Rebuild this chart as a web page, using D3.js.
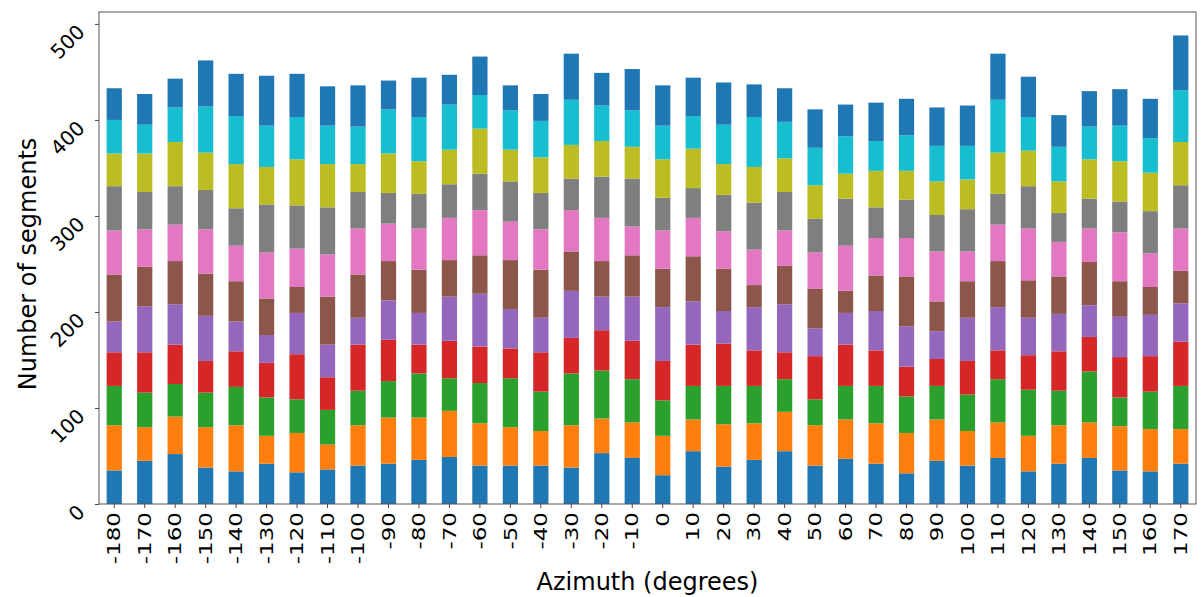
<!DOCTYPE html>
<html>
<head>
<meta charset="utf-8">
<script src="https://cdn.jsdelivr.net/npm/d3@7"></script>
<style>
  body { margin: 0; background: #fff; }
  text { font-family: "DejaVu Sans", sans-serif; fill: #000; }
</style>
</head>
<body>
<svg id="chart" width="1201" height="597"></svg>
<script>
// Azimuth bins (degrees)
const azimuths = ["-180","-170","-160","-150","-140","-130","-120","-110","-100","-90",
  "-80","-70","-60","-50","-40","-30","-20","-10","0","10","20","30","40","50",
  "60","70","80","90","100","110","120","130","140","150","160","170"];

// Segment counts per group, stacked bottom to top
const series01 = [35,45,52,38,34,42,33,36,40,42,46,49,40,40,40,38,53,48,30,55,39,46,55,40,47,42,32,45,40,48,34,42,48,35,34,42];
const series02 = [47,35,39,42,48,29,41,26,42,48,44,48,44,40,36,44,36,37,41,33,44,38,41,42,41,42,42,43,36,37,37,40,37,46,44,36];
const series03 = [41,36,34,36,40,40,35,36,36,38,46,34,42,51,41,54,50,45,37,35,40,39,34,27,35,39,38,35,38,45,48,36,53,30,39,45];
const series04 = [35,42,41,33,37,36,47,34,48,43,30,39,38,31,41,37,42,40,41,43,44,37,28,45,43,37,31,28,35,30,36,41,36,42,37,46];
const series05 = [32,48,42,47,31,29,43,34,28,41,33,46,55,41,36,49,35,46,56,45,34,45,50,29,33,41,42,29,45,45,39,39,33,42,43,40];
const series06 = [49,41,45,44,42,38,27,50,45,41,45,38,40,51,50,41,37,43,40,47,44,23,40,41,23,37,52,31,38,48,39,39,45,37,29,34];
const series07 = [46,39,38,46,37,48,40,44,48,39,43,44,47,40,42,43,45,30,40,40,39,37,37,38,47,39,40,52,31,38,54,36,35,51,35,44];
const series08 = [46,39,40,41,39,50,45,49,38,32,36,35,38,42,38,33,43,50,34,31,38,49,40,35,49,32,40,38,44,32,44,30,31,32,44,45];
const series09 = [34,40,46,39,46,39,48,45,29,41,34,36,47,33,37,35,37,33,40,41,32,37,35,35,26,38,30,35,31,43,37,33,41,42,40,45];
const series10 = [35,30,36,48,50,43,44,40,39,46,46,47,35,41,38,47,37,38,35,34,41,52,38,39,39,31,37,37,35,55,35,36,34,37,36,54];
const series11 = [33,32,30,48,44,52,45,41,43,30,41,31,40,26,28,48,34,43,42,40,44,34,35,40,33,40,38,40,42,48,42,33,37,38,41,57];

const yTicks = [0, 100, 200, 300, 400, 500];
const xTitle = "Azimuth (degrees)";
const yTitle = "Number of segments";

const allSeries = [series01, series02, series03, series04, series05, series06,
                   series07, series08, series09, series10, series11];
const keys = allSeries.map((_, i) => "s" + i);
const colors = ["#1f77b4","#ff7f0e","#2ca02c","#d62728","#9467bd","#8c564b",
                "#e377c2","#7f7f7f","#bcbd22","#17becf","#1f77b4"];

const rows = azimuths.map((a, j) => {
  const r = { azimuth: a };
  allSeries.forEach((s, i) => { r[keys[i]] = s[j]; });
  return r;
});

const margin = { left: 99, right: 1196, top: 12, bottom: 504 };
const svg = d3.select("#chart");

const stacked = d3.stack().keys(keys)(rows);
const maxTotal = d3.max(rows, r => d3.sum(keys, k => r[k]));

const x = d3.scaleBand()
  .domain(azimuths)
  .range([margin.left, margin.right])
  .paddingInner(0.5)
  .paddingOuter(0.25);

const y = d3.scaleLinear()
  .domain([0, maxTotal * 1.05])
  .range([margin.bottom, margin.top]);

// stacked bars
svg.append("g")
  .selectAll("g")
  .data(stacked)
  .join("g")
  .attr("fill", (d, i) => colors[i])
  .selectAll("rect")
  .data(d => d)
  .join("rect")
  .attr("x", d => x(d.data.azimuth))
  .attr("width", x.bandwidth())
  .attr("y", d => y(d[1]))
  .attr("height", d => y(d[0]) - y(d[1]));

// y axis
const yAxis = svg.append("g")
  .attr("transform", `translate(${margin.left},0)`)
  .call(d3.axisLeft(y).tickValues(yTicks).tickSize(4).tickFormat(d3.format("d")));
yAxis.select(".domain").remove();
yAxis.selectAll(".tick line").attr("stroke", "#444");
yAxis.selectAll(".tick text")
  .attr("x", null).attr("dy", null)
  .attr("font-size", 20)
  .attr("font-family", "DejaVu Sans, sans-serif")
  .attr("fill", "#000")
  .attr("text-anchor", "end")
  .attr("dominant-baseline", "central")
  .attr("transform", "translate(-18,4) rotate(-45)");

// x axis, labels turned upright
const xAxis = svg.append("g")
  .attr("transform", `translate(0,${margin.bottom})`)
  .call(d3.axisBottom(x).tickSize(4));
xAxis.select(".domain").remove();
xAxis.selectAll(".tick line").attr("stroke", "#444");
xAxis.selectAll(".tick text")
  .attr("y", null).attr("dy", null)
  .attr("font-size", 23)
  .attr("font-family", "DejaVu Sans, sans-serif")
  .attr("fill", "#000")
  .attr("text-anchor", "end")
  .attr("dominant-baseline", "central")
  .attr("transform", "translate(0,8) rotate(-90) scale(1,0.8)");

// frame
svg.append("rect")
  .attr("x", margin.left).attr("y", margin.top)
  .attr("width", margin.right - margin.left)
  .attr("height", margin.bottom - margin.top)
  .attr("fill", "none")
  .attr("stroke", "#555")
  .attr("stroke-width", 1);

// axis titles
svg.append("text")
  .attr("x", (margin.left + margin.right) / 2)
  .attr("y", 590)
  .attr("text-anchor", "middle")
  .attr("font-size", 24)
  .text(xTitle);

svg.append("text")
  .attr("transform", `translate(36,264) rotate(-90)`)
  .attr("text-anchor", "middle")
  .attr("font-size", 24)
  .text(yTitle);
</script>
</body>
</html>
